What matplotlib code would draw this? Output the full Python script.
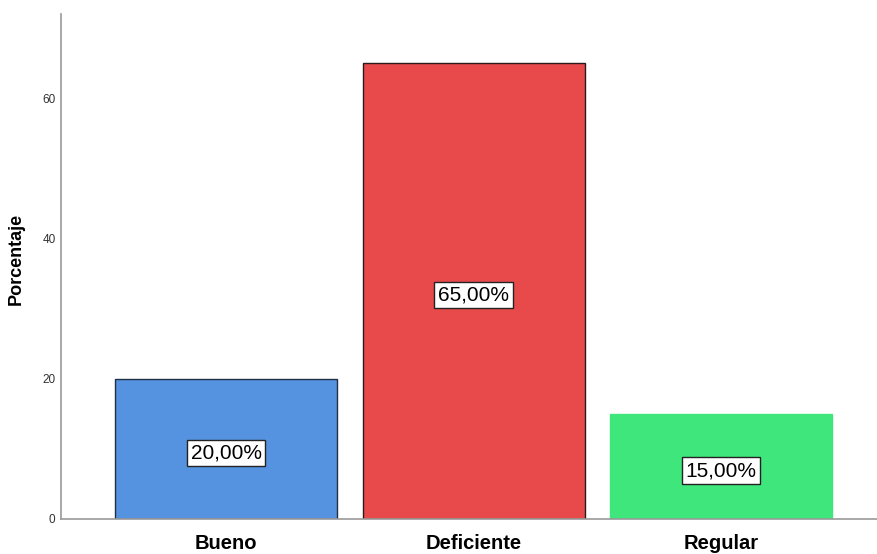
import matplotlib.pyplot as plt

# --- datos ---
categorias = ['Bueno', 'Deficiente', 'Regular']
porcentajes = [20.0, 65.0, 15.0]
colores = ['#5592e0', '#e84a4c', '#3ee67c']
bordes = ['#1f2f45', '#2a1a1a', '#3ee67c']
ticks_y = [0, 20, 40, 60]

fig = plt.figure(figsize=(8.77, 5.54), dpi=100)
ax = fig.add_axes([0.0696, 0.0632, 0.9304, 0.9115])

x = range(len(categorias))
ax.bar(x, porcentajes, width=0.897, color=colores, edgecolor=bordes, linewidth=1.0)

# etiquetas dentro de las barras
for xi, v in zip(x, porcentajes):
    ax.annotate(f"{v:.2f}%".replace('.', ','), xy=(xi, v / 2), xytext=(0, -3),
                textcoords='offset points', ha='center', va='center',
                fontsize=15, family='Liberation Sans', color='black',
                bbox=dict(boxstyle='square,pad=0.18', facecolor='white', edgecolor='#222222', linewidth=1))

ax.set_xlim(-0.667, 2.63)
ax.set_ylim(0, 72)
ax.set_yticks(ticks_y)
ax.set_yticklabels([str(t) for t in ticks_y], fontsize=8.5, color='#333333', family='Liberation Sans')
ax.set_xticks(list(x))
ax.set_xticklabels(categorias, fontsize=14.5, fontweight='bold', family='Liberation Sans')
ax.tick_params(axis='both', length=0)
ax.tick_params(axis='y', pad=4)
ax.tick_params(axis='x', pad=11)

ax.set_ylabel('Porcentaje', fontsize=13, fontweight='bold', family='Liberation Sans')
ax.yaxis.set_label_coords(-0.045, 0.515)

for s in ['top', 'right']:
    ax.spines[s].set_visible(False)
for s in ['left', 'bottom']:
    ax.spines[s].set_color('#999999')
    ax.spines[s].set_linewidth(1.2)

plt.savefig('out.png', dpi=100)
